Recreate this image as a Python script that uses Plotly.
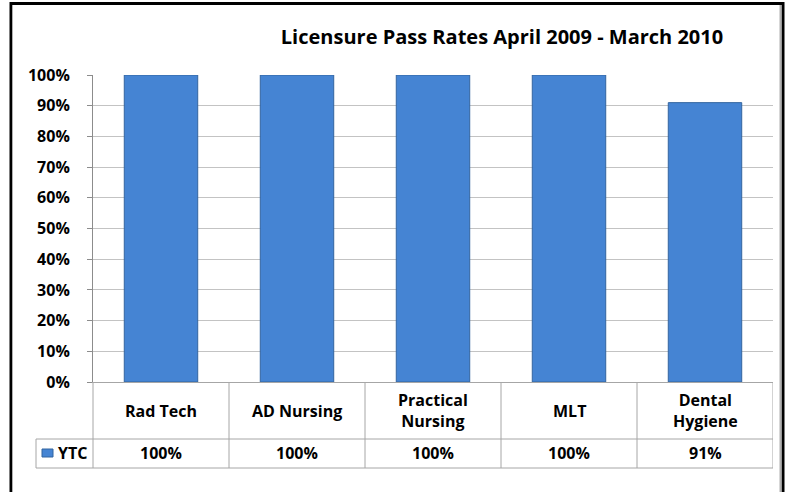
import plotly.graph_objects as go

categories = ["Rad Tech", "AD Nursing", "Practical<br>Nursing", "MLT", "Dental<br>Hygiene"]
series_name = "YTC"
values = [100, 100, 100, 100, 91]
y_ticks = [0, 10, 20, 30, 40, 50, 60, 70, 80, 90, 100]
title_text = "Licensure Pass Rates April 2009 - March 2010"

W, H = 790, 492
L, R, T, B = 93, 773, 75, 382  # plot area in px


def px(x):
    return (x - L) / (R - L)


def py(y):
    return (B - y) / (B - T)


FONT = "Open Sans"
GRID = "#c3c3c3"
TABLE = "#a6a6a6"

fig = go.Figure()
fig.add_trace(go.Bar(
    x=list(range(len(categories))),
    y=[v / 100 for v in values],
    name=series_name,
    marker=dict(color="#4584d3", line=dict(color="#33659f", width=1)),
    width=0.54,
    showlegend=False,
    hoverinfo="skip",
))

shapes = []
# outer frame
shapes.append(dict(type="rect", xref="paper", yref="paper",
                   x0=px(11), x1=px(783), y0=py(500), y1=py(3.5),
                   line=dict(color="black", width=3), layer="below"))
shapes.append(dict(type="line", xref="paper", yref="paper",
                   x0=px(12.5), x1=px(12.5), y0=py(500), y1=py(5),
                   line=dict(color="#b0b0b0", width=1)))
shapes.append(dict(type="line", xref="paper", yref="paper",
                   x0=px(780.5), x1=px(780.5), y0=py(500), y1=py(5),
                   line=dict(color="#b0b0b0", width=2)))

# table horizontal lines
for yy in (439, 468):
    shapes.append(dict(type="line", xref="paper", yref="paper",
                       x0=px(36), x1=1, y0=py(yy), y1=py(yy),
                       line=dict(color=TABLE, width=1)))
# table vertical lines
shapes.append(dict(type="line", xref="paper", yref="paper",
                   x0=px(36), x1=px(36), y0=py(439), y1=py(468),
                   line=dict(color=TABLE, width=1)))
shapes.append(dict(type="line", xref="paper", yref="paper",
                   x0=0, x1=0, y0=0, y1=py(468),
                   line=dict(color=TABLE, width=1)))
for i in range(len(categories)):
    shapes.append(dict(type="line", xref="x", yref="paper",
                       x0=i + 0.5, x1=i + 0.5, y0=0, y1=py(468),
                       line=dict(color=TABLE, width=1)))
# legend key
shapes.append(dict(type="rect", xref="paper", yref="paper",
                   x0=px(42), x1=px(53), y0=py(457), y1=py(449),
                   fillcolor="#4584d3", line=dict(color="#33659f", width=1)))

annotations = []
for i, (c, v) in enumerate(zip(categories, values)):
    annotations.append(dict(x=i, xref="x", y=py(410.5), yref="paper",
                            text=f"<b>{c}</b>", showarrow=False,
                            font=dict(family=FONT, size=16, color="#000"),
                            xanchor="center", yanchor="middle"))
    annotations.append(dict(x=i, xref="x", y=py(453.5), yref="paper",
                            text=f"<b>{v}%</b>", showarrow=False,
                            font=dict(family=FONT, size=16, color="#000"),
                            xanchor="center", yanchor="middle"))
annotations.append(dict(x=px(56), xref="paper", y=py(453.5), yref="paper",
                        text=f"<b>{series_name}</b>", showarrow=False,
                        font=dict(family=FONT, size=16, color="#000"),
                        xanchor="left", yanchor="middle"))

fig.update_layout(
    width=W, height=H,
    margin=dict(l=L, r=W - R, t=T, b=H - B, pad=0),
    paper_bgcolor="white", plot_bgcolor="white",
    title=dict(text=f"<b>{title_text}</b>", x=px(502), xref="paper",
               xanchor="center", y=1 - 37 / H, yref="container", yanchor="middle",
               font=dict(family=FONT, size=20, color="#000")),
    xaxis=dict(range=[-0.5, len(categories) - 0.5], showticklabels=False,
               showgrid=False, zeroline=False, showline=True,
               linecolor=TABLE, linewidth=1, ticks=""),
    yaxis=dict(range=[0, 1], tickvals=[t / 100 for t in y_ticks],
               ticktext=[f"<b>{t}%</b>" for t in y_ticks],
               tickfont=dict(family=FONT, size=16, color="#000"),
               showgrid=True, gridcolor=GRID, gridwidth=1,
               zeroline=False, showline=True, linecolor="#8c8c8c", linewidth=1,
               ticks="outside", ticklen=5, tickcolor="#8c8c8c", ticklabelstandoff=14),
    shapes=shapes,
    annotations=annotations,
)

fig.write_html("out.html", config={"displayModeBar": False},
               post_script="document.body.style.margin='0';")
